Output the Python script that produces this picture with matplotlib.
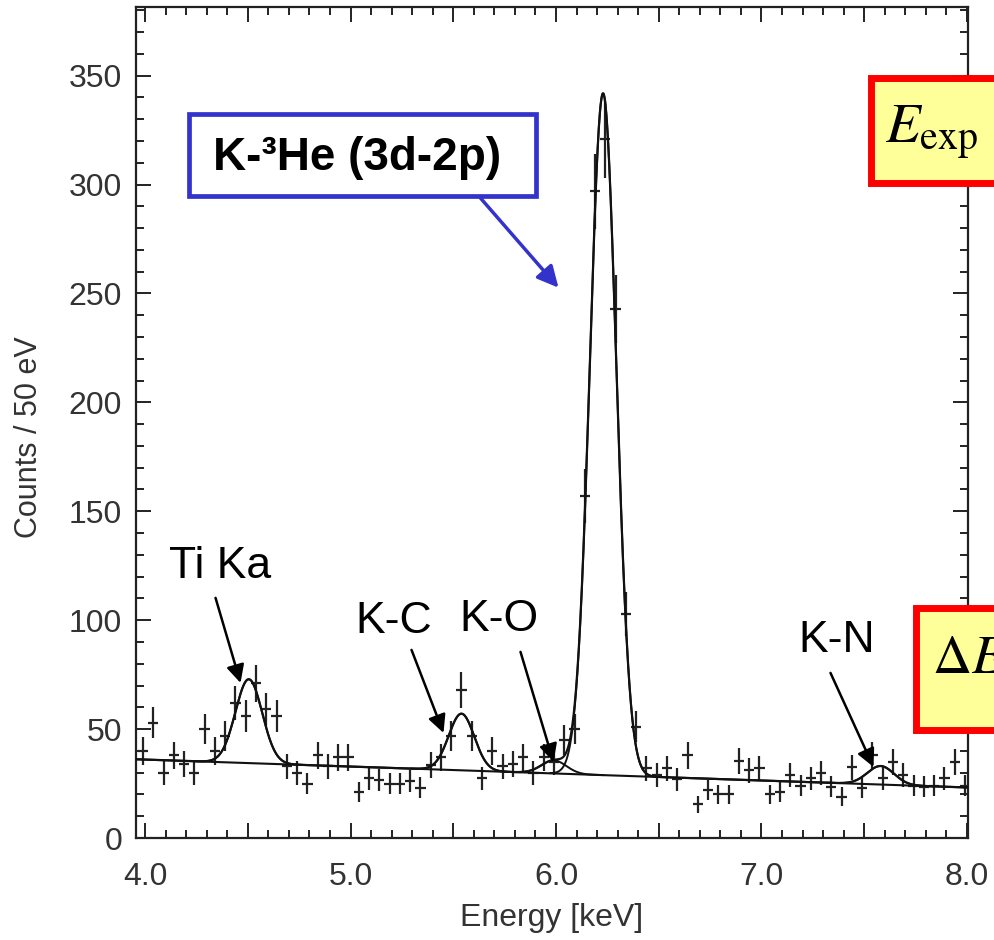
import numpy as np
import matplotlib
matplotlib.use('Agg')
import matplotlib.pyplot as plt
from matplotlib.ticker import MultipleLocator, FuncFormatter
from matplotlib.patches import Rectangle

# measured spectrum, 50 eV bins
bin_start = 3.99
bin_width = 0.05
counts = [40, 53, 30, 38, 34, 30, 50, 40, 47, 62,
          56, 71, 59, 56, 33, 30, 25, 38, 33, 37,
          37, 21, 27.5, 26.5, 25, 25, 26, 23, 33.5, 37,
          47, 68, 47, 27.5, 40, 33, 34, 37, 30, 37,
          35, 45, 50, 157, 297, 321, 243, 103, 51, 32,
          29, 32, 27, 38, 15.5, 22, 20, 20, 35.5, 31,
          32, 20, 21, 29, 24, 27.5, 30, 23.5, 19, 32.5,
          23, 38, 27.5, 35, 29, 24, 23.5, 24, 27.5, 35,
          24]

# fit: linear background + gaussian lines
bg_at_4kev = 36.0
bg_slope = -3.2
peak_names = ['Ti Ka', 'K-C', 'K-O', 'K-3He', 'K-N']
peak_centers = [4.505, 5.54, 5.99, 6.229, 7.58]
peak_heights = [38.5, 26.0, 6.0, 313.0, 8.5]
peak_sigmas = [0.065, 0.062, 0.06, 0.064, 0.065]

plt.rcParams['font.family'] = ['Liberation Sans', 'DejaVu Sans']
plt.rcParams['mathtext.fontset'] = 'stix'

W, H = 994, 940
fx = lambda px: px / W
fy = lambda py: 1 - py / H

fig = plt.figure(figsize=(W / 100, H / 100), dpi=100)
ax = fig.add_axes([fx(136), fy(838), (968 - 136) / W, (838 - 7) / H])

counts = np.array(counts, dtype=float)
energy = bin_start + bin_width * np.arange(len(counts))
ax.errorbar(energy, counts, xerr=bin_width / 2, yerr=np.sqrt(counts), fmt='none',
            ecolor='#222222', elinewidth=1.6, capsize=0, zorder=2)

x = np.linspace(3.956, 8.005, 3000)
bg = bg_at_4kev + bg_slope * (x - 4.0)
total = bg.copy()
for c, h, s in zip(peak_centers, peak_heights, peak_sigmas):
    g = h * np.exp(-(x - c) ** 2 / (2 * s ** 2))
    total += g
    m = np.abs(x - c) < 4 * s
    ax.plot(x[m], (bg + g)[m], color='#111111', lw=1.4, zorder=3)
ax.plot(x, bg, color='#111111', lw=1.5, zorder=3)
ax.plot(x, total, color='#111111', lw=1.6, zorder=3)

ax.set_xlim(3.956, 8.005)
ax.set_ylim(0, 381.5)
ax.xaxis.set_major_locator(MultipleLocator(0.5))
ax.xaxis.set_minor_locator(MultipleLocator(0.1))
ax.yaxis.set_major_locator(MultipleLocator(50))
ax.yaxis.set_minor_locator(MultipleLocator(10))
ax.xaxis.set_major_formatter(FuncFormatter(
    lambda v, p: f'{v:.1f}' if abs(v - round(v)) < 1e-6 else ''))

ax.tick_params(which='both', direction='in', top=True, right=True,
               color='#222222', labelcolor='#333333', labelsize=23, width=1.4)
ax.tick_params(which='major', length=11)
ax.tick_params(which='minor', length=6)
ax.tick_params(axis='x', pad=17)
ax.tick_params(axis='y', pad=10)
for sp in ax.spines.values():
    sp.set_color('#222222')
    sp.set_linewidth(1.6)

ax.set_xlabel('Energy [keV]', fontsize=23, color='#333333')
ax.set_ylabel('Counts / 50 eV', fontsize=22, color='#333333')
ax.xaxis.set_label_coords(0.5, -0.078)
ax.yaxis.set_label_coords(-0.11, 0.4825)

# line labels with arrows
def px2data(px, py):
    return 5.0 + (px - 350) / 205.5, (838 - py) / 2.177

labels = [('Ti Ka', (220, 567), (215, 598), (240, 683)),
          ('K-C', (393, 622), (411, 650), (443, 733)),
          ('K-O', (498, 620), (520, 652), (553, 762)),
          ('K-N', (836, 641), (830, 673), (873, 767))]
for txt, tpos, a0, a1 in labels:
    ax.text(*px2data(*tpos), txt, fontsize=32, ha='center', va='center', zorder=5)
    ax.annotate('', xy=px2data(*a1), xytext=px2data(*a0),
                arrowprops=dict(arrowstyle='-|>', color='black', lw=1.8,
                                mutation_scale=27, shrinkA=0, shrinkB=0), zorder=5)

ax.annotate('', xy=px2data(558, 288), xytext=px2data(477, 195),
            arrowprops=dict(arrowstyle='-|>', color='#3333CC', lw=2.5,
                            mutation_scale=32, shrinkA=0, shrinkB=0), zorder=5)

# boxes
blue = Rectangle((fx(189.3), fy(195.7)), (535.7 - 189.3) / W, (195.7 - 114.3) / H,
                 transform=fig.transFigure, facecolor='white', edgecolor='#3333CC',
                 lw=3.4, zorder=10)
fig.add_artist(blue)
fig.text(fx(357), fy(170), 'K-³He (3d-2p)', fontsize=33, fontweight='bold',
         ha='center', va='baseline', zorder=11)

e_box = Rectangle((fx(870.5), fy(183.5)), 0.3, (183.5 - 78.5) / H,
                  transform=fig.transFigure, facecolor='#FFFF99', edgecolor='#FF0000',
                  lw=5, zorder=10)
fig.add_artist(e_box)
fig.text(fx(885), fy(143), r'$E_{\mathrm{exp}}$', fontsize=41, ha='left',
         va='baseline', zorder=11)

d_box = Rectangle((fx(915.5), fy(729.5)), 0.3, (729.5 - 607.5) / H,
                  transform=fig.transFigure, facecolor='#FFFF99', edgecolor='#FF0000',
                  lw=5, zorder=10)
fig.add_artist(d_box)
fig.text(fx(932), fy(673), r'$\Delta E$', fontsize=39, ha='left',
         va='baseline', zorder=11)

fig.savefig('out.png', dpi=100)
